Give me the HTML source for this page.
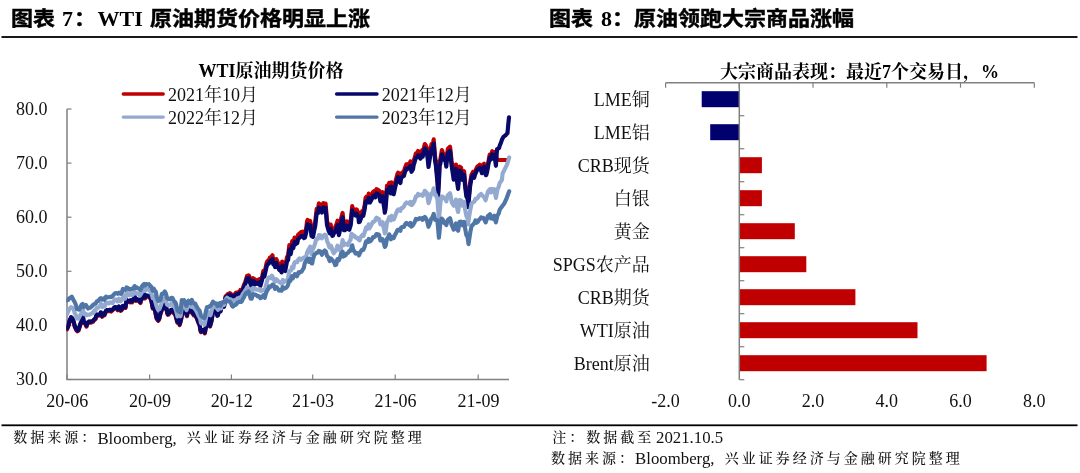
<!DOCTYPE html>
<html lang="zh-CN"><head><meta charset="utf-8"><title>图表</title>
<style>
html,body{margin:0;padding:0;background:#fff;}
body{width:1080px;height:473px;overflow:hidden;position:relative;}
svg{position:absolute;left:0;top:0;display:block;}
.ttl{position:absolute;left:0;top:0;margin:0;font-weight:bold;color:#000;white-space:nowrap;}
.ttl span{position:absolute;top:0;display:block;line-height:30px;height:30px;white-space:nowrap;}
.la{font-family:"Liberation Serif","Noto Serif CJK SC",serif;font-size:22px;}
.cj{font-family:"Liberation Sans","Noto Sans CJK SC",sans-serif;font-size:20px;transform:scaleX(1.1);transform-origin:0 0;-webkit-text-stroke:0.45px #000;}
.ax{font-family:"Liberation Serif","Noto Serif CJK SC",serif;font-size:18px;fill:#111;}
.ct{font-family:"Liberation Serif","Noto Serif CJK SC",serif;font-weight:bold;font-size:18px;fill:#000;}
.ft{font-family:"Liberation Serif","Noto Serif CJK SC",serif;font-size:14px;font-weight:500;fill:#111;}
.fl{font-family:"Liberation Serif","Noto Serif CJK SC",serif;font-size:16.8px;fill:#111;}
</style></head><body>
<svg width="1080" height="473" viewBox="0 0 1080 473">
<defs><clipPath id="cp"><rect x="66.3" y="90" width="460" height="289"/></clipPath></defs>
<rect width="1080" height="473" fill="#fff"/>

<rect x="1.5" y="36.1" width="1076" height="1.8" fill="#000"/>
<rect x="1.5" y="424.4" width="1076" height="1.8" fill="#000"/>
<text class="ct" x="271" y="76.7" text-anchor="middle">WTI原油期货价格</text>
<line x1="123.3" y1="94.0" x2="163.2" y2="94.0" stroke="#c00000" stroke-width="3.4" stroke-linecap="round"/>
<text class="ax" x="168" y="100.8">2021年10月</text>
<line x1="336.6" y1="94.0" x2="377.0" y2="94.0" stroke="#08086a" stroke-width="3.4" stroke-linecap="round"/>
<text class="ax" x="381.7" y="100.8">2021年12月</text>
<line x1="123.3" y1="117.1" x2="163.2" y2="117.1" stroke="#94a9d0" stroke-width="3.4" stroke-linecap="round"/>
<text class="ax" x="168" y="123.7">2022年12月</text>
<line x1="336.6" y1="117.1" x2="377.0" y2="117.1" stroke="#4f76a6" stroke-width="3.4" stroke-linecap="round"/>
<text class="ax" x="381.7" y="123.7">2023年12月</text>
<path d="M67,109 V379.5 H509" fill="none" stroke="#808080" stroke-width="1.5"/>
<line x1="67" y1="379.5" x2="71.5" y2="379.5" stroke="#808080" stroke-width="1.2"/>
<text class="ax" x="47.5" y="385.3" text-anchor="end">30.0</text>
<line x1="67" y1="325.4" x2="71.5" y2="325.4" stroke="#808080" stroke-width="1.2"/>
<text class="ax" x="47.5" y="331.2" text-anchor="end">40.0</text>
<line x1="67" y1="271.3" x2="71.5" y2="271.3" stroke="#808080" stroke-width="1.2"/>
<text class="ax" x="47.5" y="277.1" text-anchor="end">50.0</text>
<line x1="67" y1="217.2" x2="71.5" y2="217.2" stroke="#808080" stroke-width="1.2"/>
<text class="ax" x="47.5" y="223.0" text-anchor="end">60.0</text>
<line x1="67" y1="163.1" x2="71.5" y2="163.1" stroke="#808080" stroke-width="1.2"/>
<text class="ax" x="47.5" y="168.9" text-anchor="end">70.0</text>
<line x1="67" y1="109.0" x2="71.5" y2="109.0" stroke="#808080" stroke-width="1.2"/>
<text class="ax" x="47.5" y="114.8" text-anchor="end">80.0</text>
<line x1="67" y1="379.5" x2="67" y2="374.5" stroke="#808080" stroke-width="1.2"/>
<text class="ax" x="67.3" y="406.8" text-anchor="middle">20-06</text>
<line x1="149.6" y1="379.5" x2="149.6" y2="374.5" stroke="#808080" stroke-width="1.2"/>
<text class="ax" x="149.9" y="406.8" text-anchor="middle">20-09</text>
<line x1="231.4" y1="379.5" x2="231.4" y2="374.5" stroke="#808080" stroke-width="1.2"/>
<text class="ax" x="231.70000000000002" y="406.8" text-anchor="middle">20-12</text>
<line x1="312.7" y1="379.5" x2="312.7" y2="374.5" stroke="#808080" stroke-width="1.2"/>
<text class="ax" x="313.0" y="406.8" text-anchor="middle">21-03</text>
<line x1="395.2" y1="379.5" x2="395.2" y2="374.5" stroke="#808080" stroke-width="1.2"/>
<text class="ax" x="395.5" y="406.8" text-anchor="middle">21-06</text>
<line x1="478.2" y1="379.5" x2="478.2" y2="374.5" stroke="#808080" stroke-width="1.2"/>
<text class="ax" x="478.5" y="406.8" text-anchor="middle">21-09</text>
<path d="M67.0,329.3 L68.3,326.5 L68.9,324.2 L69.6,321.3 L71.1,318.1 L72.2,319.0 L73.3,321.2 L74.8,326.9 L76.3,330.1 L77.4,331.4 L78.5,330.6 L80.0,325.8 L80.7,323.7 L81.3,322.9 L82.9,317.2 L83.9,323.0 L85.2,323.6 L86.5,326.6 L87.4,323.7 L89.1,322.3 L89.6,322.5 L90.4,322.7 L91.8,322.2 L93.0,321.8 L94.0,320.4 L95.6,319.0 L96.3,315.9 L96.9,315.3 L98.2,315.7 L100.0,315.3 L100.8,313.2 L102.1,316.9 L103.4,314.4 L104.4,315.4 L106.0,311.5 L107.3,310.9 L108.8,311.2 L109.9,310.6 L111.2,311.5 L112.5,310.3 L113.3,309.7 L113.8,308.8 L115.1,307.8 L116.4,308.1 L117.7,310.3 L119.0,307.2 L120.7,310.8 L121.6,310.2 L122.9,306.7 L123.6,308.2 L124.2,307.5 L125.5,307.9 L126.6,300.5 L128.1,302.0 L129.4,302.0 L130.0,302.3 L130.7,301.0 L132.0,302.4 L133.0,301.0 L134.6,297.2 L135.9,300.9 L136.7,300.4 L137.2,300.0 L138.5,300.7 L139.8,302.3 L140.4,303.0 L141.1,299.7 L142.4,298.8 L144.1,294.8 L145.0,298.4 L146.3,296.2 L147.8,296.6 L148.9,296.8 L150.2,298.3 L150.7,299.1 L151.5,301.7 L152.8,308.7 L153.7,305.8 L155.4,312.6 L155.9,315.5 L156.7,318.8 L158.2,320.9 L159.3,319.1 L160.6,313.4 L161.1,312.4 L161.9,309.6 L163.3,308.8 L164.5,305.8 L165.6,304.2 L167.2,313.2 L167.8,314.9 L168.4,314.6 L170.0,312.6 L171.1,310.6 L172.3,310.4 L173.0,310.9 L173.7,313.1 L175.2,314.4 L176.2,318.1 L177.4,322.6 L178.8,320.1 L179.6,325.1 L180.2,323.1 L181.1,319.7 L182.6,311.2 L184.1,308.1 L184.8,310.8 L185.3,312.0 L187.0,316.2 L187.9,310.2 L189.3,310.8 L190.6,312.2 L191.5,307.8 L193.2,314.6 L193.7,315.3 L194.5,315.1 L195.9,316.7 L197.1,319.0 L198.2,322.4 L199.7,325.7 L200.4,330.5 L201.0,332.2 L202.6,330.9 L203.6,330.9 L204.8,333.4 L206.3,325.3 L207.8,317.5 L208.8,322.5 L210.0,326.4 L211.5,321.1 L213.0,311.3 L214.0,312.3 L215.2,310.6 L216.6,311.7 L217.4,315.3 L217.9,314.8 L219.2,308.0 L219.6,307.0 L220.5,310.8 L221.8,305.5 L223.1,304.5 L224.1,305.5 L225.6,296.3 L227.0,295.1 L227.8,294.1 L228.3,294.0 L229.6,293.2 L230.7,293.7 L232.2,295.0 L233.7,294.8 L234.8,294.2 L235.9,292.8 L237.4,292.4 L238.2,294.2 L238.7,293.1 L240.4,290.0 L241.3,292.4 L242.6,289.3 L243.9,285.0 L244.8,283.3 L246.5,278.1 L247.0,275.9 L247.8,277.8 L248.5,275.3 L249.1,275.8 L250.0,280.1 L251.7,285.2 L252.2,286.7 L253.0,278.1 L254.3,279.0 L255.2,281.5 L256.9,280.3 L257.4,280.0 L258.2,281.0 L259.5,279.3 L260.4,282.9 L262.2,276.3 L263.4,270.8 L264.4,273.3 L266.0,266.0 L266.7,262.6 L267.3,261.4 L268.9,260.0 L269.9,257.5 L271.1,257.2 L272.5,255.3 L273.3,260.8 L273.8,259.5 L275.1,263.3 L276.3,259.0 L277.7,262.3 L279.3,265.9 L280.3,266.1 L281.6,268.3 L282.2,261.5 L282.9,262.3 L284.2,266.2 L285.2,266.8 L287.0,257.0 L288.1,255.6 L289.3,245.2 L290.7,249.9 L292.2,241.2 L293.3,243.8 L294.6,237.5 L295.2,240.2 L295.9,239.5 L297.2,238.9 L298.1,234.7 L299.8,233.2 L301.1,232.0 L302.4,231.7 L304.1,233.8 L305.0,233.2 L306.3,227.8 L307.0,221.6 L307.6,220.0 L309.3,223.5 L310.2,221.0 L311.5,231.7 L313.0,232.6 L314.1,226.8 L315.2,222.0 L316.7,208.8 L318.0,208.9 L318.9,203.4 L320.6,205.2 L321.1,205.1 L321.9,208.3 L323.3,203.0 L324.5,204.1 L325.6,203.6 L327.0,220.7 L328.5,226.1 L329.7,229.0 L330.7,224.6 L332.3,231.6 L333.0,231.3 L333.6,229.5 L335.2,227.4 L336.7,223.8 L337.5,220.7 L338.9,230.8 L340.1,225.3 L341.1,218.5 L342.6,212.9 L344.0,225.9 L344.8,225.9 L345.3,225.4 L347.0,221.4 L347.9,224.6 L349.3,225.4 L350.7,220.9 L352.2,206.1 L353.1,209.6 L354.4,209.3 L355.7,211.2 L356.7,209.5 L358.3,212.7 L358.9,217.9 L359.6,217.6 L361.1,213.7 L362.2,211.2 L363.3,211.6 L364.8,204.3 L365.6,197.8 L366.1,197.0 L367.8,198.1 L368.7,193.6 L370.0,198.2 L371.3,195.8 L373.0,192.1 L373.9,191.3 L375.2,193.1 L375.9,190.4 L376.5,189.2 L378.1,189.9 L379.1,190.6 L380.4,197.1 L381.7,194.3 L382.6,192.1 L383.0,196.4 L384.3,204.2 L384.8,208.4 L385.6,204.2 L387.0,185.6 L388.2,185.9 L389.3,182.8 L390.9,189.1 L391.5,182.3 L392.1,184.3 L393.7,189.9 L394.8,184.8 L395.9,180.0 L397.4,174.0 L398.1,172.7 L398.6,173.2 L400.4,178.7 L401.2,173.5 L402.6,172.3 L403.9,171.6 L404.8,168.3 L406.4,164.3 L407.0,165.1 L407.8,164.0 L409.3,164.2 L410.4,161.5 L411.5,167.5 L413.0,164.9 L413.7,160.5 L414.3,159.0 L415.9,153.2 L416.9,153.2 L418.1,151.0 L419.5,152.3 L420.4,154.4 L422.1,150.2 L422.6,152.4 L423.4,150.1 L424.8,144.0 L426.0,145.7 L427.0,148.3 L428.5,162.7 L430.0,152.8 L431.5,144.2 L432.5,146.5 L433.7,139.4 L435.1,156.9 L435.9,161.7 L437.7,180.9 L438.1,191.6 L439.0,176.4 L439.6,161.4 L440.3,159.6 L441.9,150.1 L442.9,152.6 L444.1,155.3 L445.5,157.0 L446.3,162.3 L446.8,156.9 L447.8,148.9 L449.4,147.2 L450.0,146.6 L450.7,151.9 L451.5,160.7 L452.0,163.9 L453.7,175.3 L454.6,172.8 L455.9,164.5 L457.2,178.5 L458.1,184.8 L459.6,166.6 L461.1,167.7 L461.9,173.5 L462.4,176.0 L464.1,171.1 L465.0,181.7 L466.3,192.8 L467.6,194.9 L468.2,203.8 L468.9,195.7 L470.1,183.1 L471.5,174.7 L473.0,171.9 L474.1,174.7 L475.2,171.2 L476.7,167.8 L477.4,166.6 L478.0,166.2 L479.6,164.8 L480.6,166.0 L481.9,170.2 L483.2,164.5 L484.1,163.8 L485.8,172.2 L486.3,171.9 L487.1,169.0 L488.5,161.0 L489.7,154.7 L490.7,156.7 L492.2,151.2 L493.6,155.5 L494.4,152.0 L497.2,160.0 L507.6,160.0" fill="none" stroke="#c00000" stroke-width="4.15" stroke-linejoin="round" stroke-linecap="round" clip-path="url(#cp)"/>
<path d="M67.0,328.4 L68.3,325.6 L68.9,323.3 L69.6,320.4 L71.1,317.2 L72.2,318.1 L73.3,320.3 L74.8,326.0 L76.3,329.2 L77.4,330.5 L78.5,329.7 L80.0,324.9 L80.7,322.8 L81.3,322.0 L82.9,316.3 L83.9,322.1 L85.2,322.7 L86.5,325.7 L87.4,322.8 L89.1,321.4 L89.6,321.6 L90.4,321.8 L91.8,321.3 L93.0,320.9 L94.0,319.5 L95.6,318.1 L96.3,315.0 L96.9,314.4 L98.2,314.8 L100.0,314.4 L100.8,312.3 L102.1,316.0 L103.4,313.5 L104.4,314.5 L106.0,310.6 L107.3,310.0 L108.8,310.3 L109.9,309.7 L111.2,310.6 L112.5,309.4 L113.3,308.8 L113.8,307.9 L115.1,306.9 L116.4,307.2 L117.7,309.4 L119.0,306.3 L120.7,309.9 L121.6,309.3 L122.9,305.8 L123.6,307.3 L124.2,306.6 L125.5,307.0 L126.6,299.6 L128.1,301.1 L129.4,301.1 L130.0,301.4 L130.7,300.1 L132.0,301.5 L133.0,300.1 L134.6,296.3 L135.9,300.0 L136.7,299.5 L137.2,299.1 L138.5,299.8 L139.8,301.4 L140.4,302.1 L141.1,298.8 L142.4,297.9 L144.1,293.9 L145.0,297.5 L146.3,295.3 L147.8,295.7 L148.9,295.9 L150.2,297.4 L150.7,298.2 L151.5,300.8 L152.8,307.8 L153.7,304.9 L155.4,311.7 L155.9,314.6 L156.7,317.9 L158.2,320.0 L159.3,318.2 L160.6,312.5 L161.1,311.5 L161.9,308.7 L163.3,307.9 L164.5,304.9 L165.6,303.3 L167.2,312.3 L167.8,314.0 L168.4,313.7 L170.0,311.7 L171.1,309.7 L172.3,309.5 L173.0,310.0 L173.7,312.2 L175.2,313.5 L176.2,317.2 L177.4,321.7 L178.8,319.2 L179.6,324.2 L180.2,322.2 L181.1,318.8 L182.6,310.3 L184.1,307.2 L184.8,309.9 L185.3,311.1 L187.0,315.3 L187.9,309.3 L189.3,309.9 L190.6,311.3 L191.5,306.9 L193.2,313.7 L193.7,314.4 L194.5,314.2 L195.9,315.8 L197.1,318.1 L198.2,321.5 L199.7,324.8 L200.4,329.6 L201.0,331.3 L202.6,330.0 L203.6,330.0 L204.8,332.5 L206.3,324.6 L207.8,316.9 L208.8,322.0 L210.0,326.0 L211.5,320.9 L213.0,311.3 L214.0,312.4 L215.2,310.9 L216.6,312.0 L217.4,315.8 L217.9,315.3 L219.2,308.6 L219.6,307.7 L220.5,311.6 L221.8,306.4 L223.1,305.6 L224.1,306.7 L225.6,297.7 L227.0,296.5 L227.8,295.5 L228.3,295.5 L229.6,294.7 L230.7,295.3 L232.2,296.7 L233.7,296.5 L234.8,296.0 L235.9,294.6 L237.4,294.3 L238.2,296.2 L238.7,295.1 L240.4,292.1 L241.3,294.5 L242.6,291.5 L243.9,287.2 L244.8,285.6 L246.5,280.5 L247.0,278.3 L247.8,280.2 L248.5,277.8 L249.1,278.4 L250.0,282.7 L251.7,287.8 L252.2,289.4 L253.0,280.8 L254.3,281.7 L255.2,284.3 L256.9,283.2 L257.4,282.9 L258.2,283.9 L259.5,282.3 L260.4,285.9 L262.2,279.4 L263.4,274.0 L264.4,276.6 L266.0,269.4 L266.7,266.0 L267.3,264.8 L268.9,263.5 L269.9,261.1 L271.1,260.8 L272.5,259.0 L273.3,264.5 L273.8,263.3 L275.1,267.1 L276.3,262.8 L277.7,266.2 L279.3,269.9 L280.3,270.2 L281.6,272.4 L282.2,265.6 L282.9,266.5 L284.2,270.4 L285.2,271.1 L287.0,261.3 L288.1,259.9 L289.3,249.5 L290.7,254.2 L292.2,245.5 L293.3,248.1 L294.6,241.8 L295.2,244.5 L295.9,243.8 L297.2,243.2 L298.1,239.0 L299.8,237.5 L301.1,236.3 L302.4,236.0 L304.1,238.1 L305.0,237.5 L306.3,232.1 L307.0,225.9 L307.6,224.3 L309.3,227.8 L310.2,225.3 L311.5,236.0 L313.0,236.9 L314.1,231.1 L315.2,226.3 L316.7,213.1 L318.0,213.2 L318.9,207.7 L320.6,209.5 L321.1,209.4 L321.9,212.6 L323.3,207.3 L324.5,208.4 L325.6,207.9 L327.0,225.0 L328.5,230.4 L329.7,233.3 L330.7,228.9 L332.3,235.9 L333.0,235.6 L333.6,233.8 L335.2,231.7 L336.7,228.1 L337.5,225.0 L338.9,235.1 L340.1,229.6 L341.1,222.8 L342.6,217.2 L344.0,230.2 L344.8,230.2 L345.3,229.7 L347.0,225.7 L347.9,228.9 L349.3,229.7 L350.7,225.2 L352.2,210.4 L353.1,213.9 L354.4,213.6 L355.7,215.5 L356.7,213.8 L358.3,217.0 L358.9,222.2 L359.6,221.9 L361.1,218.0 L362.2,215.5 L363.3,215.9 L364.8,208.6 L365.6,202.1 L366.1,201.3 L367.8,202.4 L368.7,197.9 L370.0,202.5 L371.3,200.1 L373.0,196.4 L373.9,195.6 L375.2,197.4 L375.9,194.7 L376.5,193.5 L378.1,194.2 L379.1,194.9 L380.4,201.4 L381.7,198.6 L382.6,196.4 L383.0,200.7 L384.3,208.5 L384.8,212.7 L385.6,208.5 L387.0,189.9 L388.2,190.2 L389.3,187.1 L390.9,193.4 L391.5,186.6 L392.1,188.6 L393.7,194.2 L394.8,189.1 L395.9,184.3 L397.4,178.3 L398.1,177.0 L398.6,177.5 L400.4,183.0 L401.2,177.8 L402.6,176.6 L403.9,175.9 L404.8,172.6 L406.4,168.6 L407.0,169.4 L407.8,168.3 L409.3,168.5 L410.4,165.8 L411.5,171.8 L413.0,169.2 L413.7,164.8 L414.3,163.3 L415.9,157.5 L416.9,157.5 L418.1,155.3 L419.5,156.6 L420.4,158.7 L422.1,154.5 L422.6,156.7 L423.4,154.4 L424.8,148.3 L426.0,150.0 L427.0,152.6 L428.5,167.0 L430.0,157.1 L431.5,148.5 L432.5,150.8 L433.7,143.7 L435.1,161.2 L435.9,166.0 L437.7,185.2 L438.1,195.9 L439.0,180.7 L439.6,165.7 L440.3,163.9 L441.9,154.4 L442.9,156.9 L444.1,159.6 L445.5,161.3 L446.3,166.6 L446.8,161.2 L447.8,153.2 L449.4,151.5 L450.0,150.9 L450.7,156.2 L451.5,165.0 L452.0,168.2 L453.7,179.6 L454.6,177.1 L455.9,168.7 L457.2,182.7 L458.1,188.9 L459.6,170.5 L461.1,171.6 L461.9,177.4 L462.4,179.8 L464.1,174.8 L465.0,185.3 L466.3,196.3 L467.6,198.4 L468.2,207.2 L468.9,199.1 L470.1,186.4 L471.5,177.9 L473.0,175.0 L474.1,177.8 L475.2,174.2 L476.7,170.8 L477.4,169.6 L478.0,169.2 L479.6,167.8 L480.6,169.0 L481.9,173.2 L483.2,167.5 L484.1,166.8 L485.8,175.2 L486.3,174.9 L487.1,172.0 L488.5,164.0 L489.7,157.7 L490.7,159.7 L492.2,154.2 L493.6,158.5 L494.4,155.0 L495.9,165.8 L497.0,149.3 L497.5,149.1 L499.0,148.0 L500.1,144.7 L500.7,143.4 L501.4,141.3 L502.0,139.5 L502.7,138.2 L503.5,136.8 L504.0,136.4 L505.5,135.3 L506.6,134.0 L507.5,133.0 L508.2,125.0 L509.0,117.3" fill="none" stroke="#08086a" stroke-width="4.15" stroke-linejoin="round" stroke-linecap="round" clip-path="url(#cp)"/>
<path d="M67.0,314.2 L68.0,311.8 L69.5,308.9 L71.0,307.1 L72.5,307.8 L73.5,309.3 L74.0,310.4 L74.8,313.5 L75.5,314.3 L76.1,315.7 L77.0,318.5 L78.5,318.6 L80.0,315.8 L81.5,313.0 L83.0,310.4 L83.9,312.5 L84.5,314.3 L85.2,313.7 L86.0,313.9 L86.5,315.2 L87.5,314.8 L89.0,314.7 L90.5,314.1 L92.0,313.2 L93.0,312.3 L93.5,312.8 L94.3,310.6 L95.0,310.8 L95.6,310.2 L96.5,308.1 L98.0,307.7 L99.5,306.8 L101.0,303.6 L102.5,307.0 L103.4,305.5 L104.0,305.3 L104.7,306.5 L105.5,303.5 L106.0,303.6 L107.0,302.6 L108.5,303.5 L110.0,302.4 L111.5,302.6 L112.5,303.1 L113.0,302.3 L113.8,300.9 L114.5,300.1 L115.1,299.3 L116.0,299.5 L117.5,301.3 L119.0,298.7 L120.5,301.3 L122.0,299.7 L122.9,297.4 L123.5,296.4 L124.2,298.4 L125.0,298.7 L125.5,297.5 L126.5,292.3 L128.0,294.6 L129.5,295.2 L131.0,293.6 L132.0,295.0 L132.5,295.1 L133.3,293.6 L134.0,291.6 L134.6,291.7 L135.5,293.5 L137.0,293.3 L138.5,293.8 L140.0,295.6 L141.5,292.9 L142.4,291.5 L143.0,291.4 L143.7,289.0 L144.5,290.6 L145.0,290.9 L146.0,289.8 L147.5,288.9 L149.0,289.8 L150.5,291.4 L151.5,293.9 L152.0,295.1 L152.8,298.1 L153.5,296.4 L154.1,297.7 L155.0,300.6 L156.5,305.9 L158.0,309.8 L159.5,309.0 L161.0,305.1 L161.9,302.0 L162.5,299.6 L163.2,301.3 L164.0,298.7 L164.5,298.2 L165.5,298.0 L167.0,304.6 L168.5,305.3 L170.0,304.9 L171.5,303.6 L172.3,303.3 L173.0,304.6 L173.7,306.0 L174.5,306.7 L176.0,310.3 L177.5,316.4 L179.0,314.8 L180.5,316.2 L181.4,310.2 L182.0,307.1 L182.8,306.1 L183.5,303.4 L184.1,304.3 L185.0,306.4 L186.5,310.2 L188.0,305.7 L189.5,305.8 L191.0,306.8 L191.9,303.8 L192.5,306.9 L193.2,307.6 L194.0,307.8 L194.5,308.5 L195.5,309.5 L197.0,312.3 L198.5,315.5 L200.0,318.2 L201.0,323.0 L201.5,323.5 L202.3,322.9 L203.0,323.3 L203.6,323.2 L204.5,324.8 L206.0,318.0 L207.5,311.8 L209.0,314.4 L210.5,315.3 L211.4,311.6 L212.0,309.2 L212.7,307.6 L213.5,307.4 L214.0,307.2 L215.0,306.9 L216.5,307.8 L218.0,309.8 L219.5,305.6 L220.5,308.0 L221.0,308.4 L221.8,304.3 L222.5,304.4 L223.1,303.9 L224.0,304.9 L224.8,301.0 L225.7,300.3 L226.3,298.6 L227.0,297.7 L228.3,298.8 L230.0,300.7 L230.9,299.5 L232.2,301.1 L233.7,301.1 L234.8,300.6 L236.1,300.7 L237.4,298.3 L238.7,298.2 L240.0,297.3 L241.1,298.0 L242.6,294.3 L244.1,292.4 L245.2,290.5 L246.5,288.6 L247.0,287.4 L247.8,289.4 L249.1,288.7 L250.0,290.0 L251.7,292.8 L253.0,287.9 L254.3,288.5 L255.9,289.6 L256.9,289.4 L258.2,289.8 L259.6,289.1 L260.8,291.1 L262.1,290.4 L263.3,289.9 L264.7,290.5 L266.3,284.2 L267.3,280.3 L268.9,277.4 L269.9,277.5 L271.2,278.4 L271.9,275.7 L272.5,276.6 L273.8,279.3 L274.8,281.8 L276.4,279.3 L277.8,280.7 L279.0,281.9 L280.7,282.9 L281.6,283.8 L282.9,280.0 L283.7,282.5 L284.2,281.6 L285.5,280.9 L286.7,280.5 L288.1,278.4 L288.9,272.4 L289.4,271.2 L291.1,270.3 L292.0,266.8 L293.3,268.0 L294.1,264.0 L294.6,262.3 L295.2,262.0 L295.9,261.9 L297.2,262.2 L298.5,259.4 L299.6,258.4 L301.1,259.9 L302.4,258.5 L304.1,257.4 L305.0,258.3 L306.3,256.3 L307.0,252.8 L307.6,251.3 L309.3,248.4 L310.2,246.6 L311.5,254.1 L312.8,249.0 L313.7,247.6 L315.4,242.5 L315.9,239.8 L316.7,238.5 L318.0,238.7 L318.9,235.1 L320.6,235.3 L321.9,238.3 L323.2,235.9 L324.8,234.7 L325.8,235.2 L327.0,240.8 L328.4,244.0 L329.3,247.1 L329.7,247.5 L331.0,245.8 L331.5,246.9 L332.3,249.9 L333.7,253.3 L334.9,251.8 L335.9,250.5 L337.5,245.7 L338.1,248.0 L338.8,249.4 L340.4,250.7 L341.4,246.3 L342.6,240.1 L344.0,245.1 L344.8,243.8 L345.3,244.0 L347.0,243.8 L347.9,245.1 L349.3,241.7 L350.5,239.9 L351.5,233.7 L353.1,235.6 L353.7,236.4 L354.4,235.7 L355.9,237.7 L357.0,237.5 L358.1,239.1 L359.6,240.4 L360.4,237.9 L360.9,236.9 L362.6,234.8 L363.5,235.9 L364.8,232.0 L366.1,227.4 L367.0,229.1 L368.7,224.5 L369.3,228.4 L370.0,227.3 L371.3,225.0 L373.0,221.8 L373.9,221.8 L375.2,220.5 L375.9,218.5 L376.5,217.7 L378.1,218.8 L379.1,219.2 L380.4,224.3 L381.7,223.2 L382.6,222.3 L383.0,225.3 L384.3,230.1 L384.8,233.4 L385.6,232.4 L387.0,222.1 L388.2,220.1 L389.3,217.2 L390.9,220.3 L391.5,215.9 L392.1,217.1 L393.7,219.6 L394.8,217.2 L395.9,213.9 L397.4,210.3 L398.1,209.5 L398.6,209.9 L400.4,210.8 L401.2,208.2 L402.6,207.9 L403.9,206.5 L404.8,204.5 L406.4,202.5 L407.0,202.8 L407.8,202.8 L409.3,203.8 L410.4,201.8 L411.5,205.1 L413.0,203.8 L413.7,201.4 L414.3,201.6 L415.9,196.4 L416.9,196.5 L418.1,193.9 L419.5,195.1 L420.4,195.0 L422.1,194.5 L422.6,195.8 L423.4,194.7 L424.8,190.8 L426.0,192.0 L427.0,193.2 L428.5,203.1 L430.0,198.2 L431.2,193.6 L432.2,193.5 L433.7,188.3 L435.1,195.2 L435.9,195.0 L437.4,199.1 L438.9,219.9 L440.4,202.7 L441.6,196.5 L442.6,196.5 L444.2,198.6 L444.8,198.6 L445.5,198.9 L446.3,201.4 L446.8,199.3 L447.8,195.3 L449.4,193.9 L450.0,193.3 L450.7,196.0 L451.5,201.3 L452.0,203.0 L453.7,205.7 L454.6,204.5 L455.9,199.5 L457.2,208.3 L458.1,212.0 L459.6,200.0 L461.1,200.4 L461.9,205.3 L462.4,205.6 L464.1,201.9 L465.0,208.8 L466.3,215.7 L467.6,218.7 L468.1,224.5 L468.9,217.9 L470.0,211.4 L471.5,203.9 L472.2,202.8 L472.8,202.6 L474.4,201.5 L475.4,198.9 L476.7,198.9 L478.0,197.5 L478.9,195.7 L480.6,194.2 L481.1,193.9 L481.9,195.0 L483.3,196.3 L484.5,197.7 L485.6,200.3 L487.1,194.8 L487.8,191.8 L488.4,190.9 L490.0,189.1 L491.0,192.4 L492.2,189.0 L493.6,191.8 L494.4,189.2 L495.9,197.9 L497.4,189.6 L498.8,186.4 L499.6,183.2 L500.1,182.6 L501.4,180.6 L501.9,180.0 L502.6,173.5 L504.0,170.7 L504.8,169.1 L505.3,168.1 L507.0,164.6 L507.9,161.8 L509.2,157.4" fill="none" stroke="#94a9d0" stroke-width="4.15" stroke-linejoin="round" stroke-linecap="round" clip-path="url(#cp)"/>
<path d="M67.0,300.4 L68.3,299.9 L68.9,298.4 L69.6,298.2 L70.9,297.4 L71.8,296.6 L73.5,300.1 L74.8,302.3 L76.1,305.5 L77.0,309.1 L78.7,309.6 L79.2,309.6 L80.0,308.4 L81.5,304.7 L82.6,304.0 L83.7,307.0 L85.2,305.4 L85.9,304.9 L86.5,306.2 L88.1,308.5 L89.1,307.8 L90.3,307.7 L91.7,306.5 L93.3,304.7 L94.3,304.1 L95.6,303.8 L96.3,302.4 L96.9,301.2 L98.2,300.9 L100.0,298.7 L100.8,298.1 L102.1,299.5 L103.4,298.4 L104.4,299.8 L106.0,296.6 L107.3,297.4 L108.8,297.3 L109.9,296.8 L111.2,297.1 L112.5,296.1 L113.3,295.2 L113.8,294.5 L115.1,293.3 L116.4,293.0 L117.7,293.9 L119.0,292.6 L120.7,293.8 L121.6,293.4 L122.9,288.9 L123.6,289.8 L124.2,289.5 L125.5,289.7 L126.6,287.4 L128.1,288.1 L129.4,289.5 L130.0,289.7 L130.7,289.4 L132.0,288.7 L133.0,288.8 L134.6,286.1 L135.9,288.0 L136.7,287.4 L137.2,288.1 L138.5,288.3 L139.8,289.6 L140.4,290.0 L141.1,288.7 L142.4,285.7 L144.1,284.0 L145.0,285.7 L146.3,284.0 L147.8,284.4 L148.9,284.2 L150.2,286.2 L150.7,286.1 L151.5,287.4 L152.8,290.8 L153.7,288.6 L155.4,291.5 L155.9,291.9 L156.7,297.1 L158.2,301.1 L159.3,300.4 L160.4,299.9 L161.9,293.8 L162.6,294.2 L163.2,293.5 L164.8,291.4 L165.8,293.2 L167.0,298.0 L168.4,299.0 L169.3,298.9 L169.8,299.4 L171.5,297.8 L172.3,297.8 L173.7,300.5 L174.9,301.9 L175.9,303.6 L177.6,310.5 L178.2,311.4 L178.8,310.5 L180.4,312.4 L181.8,300.1 L182.8,300.9 L184.1,300.2 L185.3,303.1 L186.3,305.9 L187.9,301.7 L188.5,300.7 L189.3,302.4 L190.7,303.3 L191.9,300.0 L193.0,302.7 L194.5,303.6 L195.2,303.5 L195.8,304.9 L197.4,307.8 L198.4,309.3 L199.6,310.7 L201.0,315.8 L201.8,316.4 L203.6,317.8 L204.1,318.3 L204.9,316.5 L205.6,312.8 L206.2,310.3 L207.0,307.0 L208.8,307.1 L209.3,306.2 L210.1,306.1 L211.5,304.5 L213.0,301.7 L214.0,302.8 L215.2,303.3 L216.6,303.6 L217.4,306.1 L217.9,305.6 L219.2,303.7 L219.6,303.3 L220.5,305.9 L221.8,302.4 L223.1,302.1 L224.1,302.5 L225.7,301.2 L226.3,300.3 L227.0,301.1 L228.5,301.4 L229.6,301.5 L230.7,302.7 L232.2,306.2 L233.0,306.6 L233.5,306.0 L235.2,304.8 L236.1,304.6 L237.4,302.6 L238.7,302.1 L239.6,301.7 L241.3,301.9 L241.8,301.4 L242.6,299.5 L244.1,297.0 L245.2,294.3 L246.3,292.8 L247.8,293.5 L248.5,291.4 L249.1,293.1 L250.7,298.6 L251.7,298.7 L253.0,294.2 L254.3,294.2 L255.2,294.7 L256.9,295.4 L257.4,296.3 L258.2,296.1 L259.5,296.5 L260.4,298.2 L262.1,297.0 L262.6,296.5 L263.4,295.2 L264.8,297.8 L266.0,293.1 L267.0,290.8 L268.6,288.3 L269.3,286.5 L269.9,287.2 L271.5,286.1 L272.5,284.6 L273.8,285.4 L274.4,287.2 L275.1,288.8 L276.7,287.2 L277.7,288.7 L279.0,290.6 L279.6,290.1 L280.3,290.4 L281.6,290.7 L282.6,287.1 L284.2,288.6 L285.6,288.0 L286.8,287.1 L287.8,285.6 L289.4,280.3 L290.4,280.9 L292.0,276.2 L292.6,278.6 L293.3,277.2 L294.8,274.1 L295.9,274.7 L297.0,276.2 L298.5,272.5 L299.3,273.0 L299.8,272.1 L301.5,271.8 L302.4,270.2 L303.7,268.2 L304.8,263.1 L306.3,260.7 L307.8,258.8 L308.9,261.8 L310.0,258.6 L311.5,263.3 L312.2,263.5 L312.8,259.9 L314.4,254.5 L315.4,254.0 L316.7,252.5 L318.0,252.6 L318.9,250.8 L320.6,251.7 L321.9,254.8 L323.2,252.2 L324.8,250.5 L325.8,251.3 L327.0,255.7 L328.4,257.4 L329.3,260.0 L329.7,261.0 L331.0,258.5 L332.2,260.1 L333.6,261.3 L335.2,265.2 L336.2,264.7 L337.4,259.1 L338.8,260.2 L339.6,258.6 L340.1,257.3 L341.1,253.4 L342.7,251.8 L343.3,256.6 L344.0,256.1 L345.6,255.2 L346.6,253.4 L347.8,253.1 L349.2,251.1 L350.0,250.6 L350.5,250.8 L352.2,245.3 L353.1,249.3 L354.4,251.7 L355.7,253.6 L356.7,252.9 L358.3,253.3 L358.9,255.4 L359.6,253.9 L361.1,250.9 L362.2,249.7 L363.3,249.8 L364.8,246.4 L365.6,242.7 L366.1,241.5 L367.8,242.1 L368.7,238.9 L370.0,241.5 L371.3,240.3 L373.0,237.2 L373.9,237.3 L375.2,236.2 L375.9,235.2 L376.5,234.0 L378.1,234.3 L379.1,235.0 L380.4,240.4 L381.7,240.1 L382.6,239.2 L383.0,240.5 L384.3,244.7 L384.8,246.9 L385.6,245.9 L387.0,238.9 L388.2,237.0 L389.3,234.5 L390.9,239.3 L391.5,236.7 L392.1,236.9 L393.7,238.1 L394.8,235.2 L395.9,233.4 L397.4,230.2 L398.1,230.6 L398.6,229.7 L400.4,230.8 L401.2,227.6 L402.6,226.8 L403.9,226.8 L404.8,224.9 L406.4,222.9 L407.0,223.9 L407.8,223.6 L409.3,225.2 L410.4,222.9 L411.5,226.6 L413.0,225.1 L413.7,223.7 L414.3,223.0 L415.9,219.0 L416.9,219.4 L418.1,219.2 L419.5,218.2 L420.4,218.7 L422.1,218.1 L422.6,219.8 L423.4,219.0 L424.8,217.0 L426.0,218.3 L427.0,220.5 L428.5,226.8 L430.0,223.1 L431.2,218.8 L432.2,217.7 L433.7,213.9 L435.1,219.8 L435.9,220.1 L437.4,220.4 L438.9,237.7 L440.4,222.6 L441.6,218.5 L442.6,219.3 L444.2,223.0 L444.8,222.1 L445.5,223.0 L446.3,225.1 L446.8,223.3 L447.8,219.9 L449.4,218.8 L450.0,218.2 L450.7,220.4 L451.5,224.5 L452.0,225.5 L453.7,229.6 L454.6,228.2 L455.9,223.4 L457.2,229.2 L458.1,230.8 L459.6,221.7 L461.1,221.6 L461.9,224.4 L462.4,225.2 L464.1,221.9 L465.0,227.6 L466.3,235.0 L467.6,237.1 L468.5,244.1 L470.4,231.6 L471.5,226.6 L472.2,225.1 L472.8,224.9 L474.4,223.1 L475.4,220.5 L476.7,222.7 L478.0,221.7 L478.9,219.8 L480.6,218.4 L481.1,217.3 L481.9,217.9 L483.3,217.9 L484.5,220.0 L485.6,222.4 L487.1,218.6 L487.8,216.0 L488.4,215.7 L490.0,214.1 L491.0,218.5 L492.2,216.3 L493.6,219.0 L494.4,215.7 L495.9,222.4 L497.4,215.6 L498.8,213.2 L499.6,209.9 L500.1,209.1 L501.4,207.2 L501.9,206.7 L502.7,205.5 L504.1,203.7 L505.3,201.3 L506.3,199.2 L507.9,194.8 L509.2,191.3" fill="none" stroke="#4f76a6" stroke-width="4.15" stroke-linejoin="round" stroke-linecap="round" clip-path="url(#cp)"/>
<text><tspan class="ft" x="13.2" y="442.4" letter-spacing="3">数据来源：</tspan><tspan class="fl" x="97.4" y="443.6">Bloomberg,</tspan> <tspan class="ft" x="186.8" y="442.4" letter-spacing="3">兴业证券经济与金融研究院整理</tspan></text>
<text class="ct" x="859.5" y="78" text-anchor="middle">大宗商品表现：最近7个交易日，%</text>
<rect x="701.7" y="91.2" width="37.6" height="16" fill="#00006e"/>
<text class="ax" x="649.8" y="105.8" text-anchor="end" font-size="17.7">LME铜</text>
<rect x="710.2" y="124.2" width="29.1" height="16" fill="#00006e"/>
<text class="ax" x="649.8" y="138.8" text-anchor="end" font-size="17.7">LME铝</text>
<rect x="739.3" y="157.2" width="22.6" height="16" fill="#c00000"/>
<text class="ax" x="649.8" y="171.8" text-anchor="end" font-size="17.7">CRB现货</text>
<rect x="739.3" y="190.2" width="22.6" height="16" fill="#c00000"/>
<text class="ax" x="649.8" y="204.8" text-anchor="end" font-size="17.7">白银</text>
<rect x="739.3" y="223.2" width="55.5" height="16" fill="#c00000"/>
<text class="ax" x="649.8" y="237.8" text-anchor="end" font-size="17.7">黄金</text>
<rect x="739.3" y="256.2" width="67.0" height="16" fill="#c00000"/>
<text class="ax" x="649.8" y="270.8" text-anchor="end" font-size="17.7">SPGS农产品</text>
<rect x="739.3" y="289.2" width="116.1" height="16" fill="#c00000"/>
<text class="ax" x="649.8" y="303.8" text-anchor="end" font-size="17.7">CRB期货</text>
<rect x="739.3" y="322.2" width="178.2" height="16" fill="#c00000"/>
<text class="ax" x="649.8" y="336.8" text-anchor="end" font-size="17.7">WTI原油</text>
<rect x="739.3" y="355.2" width="247.3" height="16" fill="#c00000"/>
<text class="ax" x="649.8" y="369.8" text-anchor="end" font-size="17.7">Brent原油</text>
<path d="M665.6,82.7 H1034.3" fill="none" stroke="#808080" stroke-width="1.5"/>
<path d="M739.3,82.7 V379.7" fill="none" stroke="#808080" stroke-width="1.5"/>
<line x1="665.6" y1="82.7" x2="665.6" y2="87.7" stroke="#808080" stroke-width="1.2"/>
<text class="ax" x="665.6" y="406.8" text-anchor="middle">-2.0</text>
<line x1="739.3" y1="82.7" x2="739.3" y2="87.7" stroke="#808080" stroke-width="1.2"/>
<text class="ax" x="739.3" y="406.8" text-anchor="middle">0.0</text>
<line x1="813.0" y1="82.7" x2="813.0" y2="87.7" stroke="#808080" stroke-width="1.2"/>
<text class="ax" x="813.0" y="406.8" text-anchor="middle">2.0</text>
<line x1="886.8" y1="82.7" x2="886.8" y2="87.7" stroke="#808080" stroke-width="1.2"/>
<text class="ax" x="886.8" y="406.8" text-anchor="middle">4.0</text>
<line x1="960.5" y1="82.7" x2="960.5" y2="87.7" stroke="#808080" stroke-width="1.2"/>
<text class="ax" x="960.5" y="406.8" text-anchor="middle">6.0</text>
<line x1="1034.3" y1="82.7" x2="1034.3" y2="87.7" stroke="#808080" stroke-width="1.2"/>
<text class="ax" x="1034.3" y="406.8" text-anchor="middle">8.0</text>
<line x1="739.3" y1="115.7" x2="744.3" y2="115.7" stroke="#808080" stroke-width="1.2"/>
<line x1="739.3" y1="148.7" x2="744.3" y2="148.7" stroke="#808080" stroke-width="1.2"/>
<line x1="739.3" y1="181.7" x2="744.3" y2="181.7" stroke="#808080" stroke-width="1.2"/>
<line x1="739.3" y1="214.7" x2="744.3" y2="214.7" stroke="#808080" stroke-width="1.2"/>
<line x1="739.3" y1="247.7" x2="744.3" y2="247.7" stroke="#808080" stroke-width="1.2"/>
<line x1="739.3" y1="280.7" x2="744.3" y2="280.7" stroke="#808080" stroke-width="1.2"/>
<line x1="739.3" y1="313.7" x2="744.3" y2="313.7" stroke="#808080" stroke-width="1.2"/>
<line x1="739.3" y1="346.7" x2="744.3" y2="346.7" stroke="#808080" stroke-width="1.2"/>
<line x1="739.3" y1="379.7" x2="744.3" y2="379.7" stroke="#808080" stroke-width="1.2"/>
<text><tspan class="ft" x="552.2" y="441.9" letter-spacing="3">注：数据截至</tspan><tspan class="fl" x="656" y="443.1">2021.10.5</tspan></text>
<text><tspan class="ft" x="551.1" y="463.2" letter-spacing="3">数据来源：</tspan><tspan class="fl" x="635.1" y="464.4">Bloomberg,</tspan> <tspan class="ft" x="724.7" y="463.2" letter-spacing="3">兴业证券经济与金融研究院整理</tspan></text>
</svg>
<h2 class="ttl"><span class="cj" style="left:10.7px;top:4px">图表</span> <span class="la" style="left:61.9px;top:4px">7</span><span class="cj" style="left:74px;top:4px">：</span><span class="la" style="left:97.6px;top:4px">WTI</span> <span class="cj" style="left:149.9px;top:4px">原油期货价格明显上涨</span></h2>
<h2 class="ttl"><span class="cj" style="left:549.3px;top:4px">图表</span> <span class="la" style="left:601px;top:4px">8</span><span class="cj" style="left:611.5px;top:4px">：</span><span class="cj" style="left:634.4px;top:4px">原油领跑大宗商品涨幅</span></h2>
</body></html>
